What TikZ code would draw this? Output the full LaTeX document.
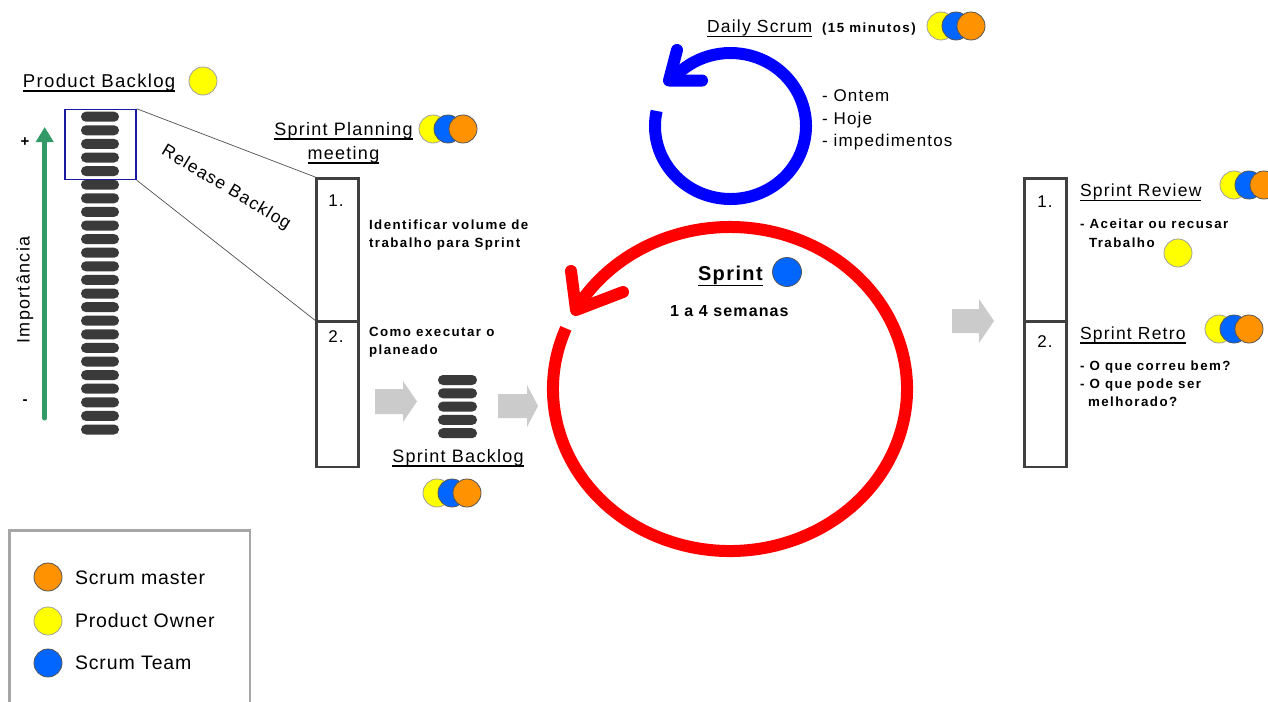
\documentclass[tikz,border=0pt]{standalone}
\usepackage{fontspec}
\setmainfont{Liberation Sans}[LetterSpace=7]
\newfontfamily\smb{Liberation Sans}[LetterSpace=11]
\newfontfamily\legf{Liberation Sans}[LetterSpace=4.5]
\usetikzlibrary{arrows.meta}
\definecolor{barc}{HTML}{3A3A3A}
\definecolor{navyc}{HTML}{1A1AA0}
\definecolor{greenc}{HTML}{339966}
\definecolor{cyel}{HTML}{FFFF00}
\definecolor{cblu}{HTML}{0066FF}
\definecolor{cora}{HTML}{FF9200}
\definecolor{yedge}{HTML}{A0A0A0}
\definecolor{cedge}{HTML}{555555}
\definecolor{boxc}{HTML}{404040}
\definecolor{arrc}{HTML}{CBCBCB}
\definecolor{legc}{HTML}{A6A6A6}
\definecolor{linec}{HTML}{505050}
\newcommand\fsz[1]{\fontsize{#1}{#1}\selectfont}
\newcommand\ulx[2][4.5pt]{\setbox0=\hbox{#2}\rlap{\rule[-#1]{\wd0}{1.4pt}}\box0}
\newcommand\trio[3]{%
  \node[pyel] (#3-y) at ({#1-15},#2) {};
  \node[pblu] (#3-b) at (#1,#2) {};
  \node[pora] (#3-o) at ({#1+15},#2) {};}
\begin{document}
\begin{tikzpicture}[x=1pt,y=-1pt,
  txt/.style={inner sep=0pt,outer sep=0pt,anchor=base west,text=black},
  ctxt/.style={inner sep=0pt,outer sep=0pt,anchor=base,text=black},
  pc/.style={circle,minimum size=28pt,inner sep=0pt,line width=0.8pt},
  pyel/.style={pc,fill=cyel,draw=yedge},
  pblu/.style={pc,fill=cblu,draw=cedge},
  pora/.style={pc,fill=cora,draw=cedge},
  cell/.style={draw=boxc,line width=2.5pt,inner sep=0pt,minimum width=42pt},
  blockarrow/.style={fill=arrc},
  bar/.style={fill=barc,rounded corners=4.9pt},
  ring/.style={line width=12pt},
  chev/.style={line width=12pt,line cap=round,line join=round},
  thin/.style={draw=linec,line width=0.7pt},
  smalltxt/.style={txt,font=\smb\bfseries\fsz{13.3}}
]
\useasboundingbox (0,0) rectangle (1268,701);
\fill[white] (0,0) rectangle (1268,701);

% ---------- Product backlog ----------
\node[txt] (pbt) at (23,87) {\fsz{18.6}\ulx{Product Backlog}};
\node[pyel] (pbc) at (203,81) {};
\foreach \i in {0,...,23}{\fill[bar] (81,{111.7+13.6*\i}) rectangle (119,{121.7+13.6*\i});}
\node[draw=navyc,line width=1.5pt,minimum width=71pt,minimum height=70pt,inner sep=0pt] (rb) at (100.5,144.5) {};
\coordinate (gbot) at (44.7,418);
\coordinate (gtop) at (44.7,127);
\draw[greenc,line width=5pt,line cap=round,-{Triangle[length=15pt,width=17pt]}] (gbot) -- (gtop);
\node[inner sep=0pt,text=black] (plus) at (25,142) {\fsz{15}\bfseries +};
\node[inner sep=0pt,text=black] (minus) at (25,402) {\fsz{15}\bfseries -};
\node[inner sep=0pt,text=black,rotate=90] (imp) at (25,290) {\fsz{18}Importância};
\node[inner sep=0pt,text=black,rotate=-31] (rel) at (226,188) {\fsz{17.5}Release Backlog};

% ---------- Sprint planning ----------
\node[ctxt] (spt1) at (343.5,135) {\fsz{18}\ulx{Sprint Planning}};
\node[ctxt] (spt2) at (343.5,159) {\fsz{18}\ulx{meeting}};
\trio{448}{129}{spc}
\node[cell,minimum height=143.4pt] (pb1) at (337.5,250) {};
\node[cell,minimum height=145.3pt] (pb2) at (337.5,394.35) {};
\node[inner sep=0pt,text=black] (n1) at (336,201) {\fsz{17}1.};
\node[inner sep=0pt,text=black] (n2) at (336,337) {\fsz{17}2.};
\draw[thin] (rb.north east) -- (pb1.north west);
\draw[thin] (rb.south east) -- (pb2.north west);
\node[smalltxt] (id1) at (369,229) {Identificar volume de};
\node[smalltxt] (id2) at (369,247) {trabalho para Sprint};
\node[smalltxt] (ce1) at (369,336) {Como executar o};
\node[smalltxt] (ce2) at (369,354) {planeado};

% ---------- block arrows ----------
\fill[blockarrow] (375,389)--(403,389)--(403,381)--(417,401.5)--(403,422)--(403,414)--(375,414)--cycle;
\fill[blockarrow] (498,394)--(527,394)--(527,385)--(538,406)--(527,427)--(527,418)--(498,418)--cycle;
\fill[blockarrow] (952,309)--(979,309)--(979,299)--(994,321)--(979,343)--(979,333)--(952,333)--cycle;

% ---------- Sprint backlog ----------
\foreach \i in {0,...,4}{\fill[bar] (438,{375+13.3*\i}) rectangle (477,{385+13.3*\i});}
\node[ctxt] (sbt) at (458,462) {\fsz{18}\ulx{Sprint Backlog}};
\trio{452}{493}{sbc}

% ---------- Daily scrum ----------
\node[txt] (dst) at (707,32.5) {\fsz{17.5}\ulx{Daily Scrum}};
\node[txt] (dsm) at (822,32.5) {\smb\bfseries\fsz{13.3}(15 minutos)};
\trio{956}{26}{dsc}
\coordinate (bc) at (730.5,126);
\draw[blue,ring] (bc) ++(191.9:75.5 and 73) arc[start angle=191.9,end angle=-143,x radius=75.5,y radius=73];
\draw[blue,chev] (677,50) -- (669,80.5) -- (702,80.5);
\node[txt] (on1) at (822,101.5) {\fsz{17}- Ontem};
\node[txt] (on2) at (822,124) {\fsz{17}- Hoje};
\node[txt] (on3) at (822,146.5) {\fsz{17}- impedimentos};

% ---------- Sprint ----------
\coordinate (rc) at (730,389);
\draw[red,ring] (rc) ++(202:177 and 162) arc[start angle=202,end angle=-150.5,x radius=177,y radius=162];
\draw[red,chev] (571,271) -- (576,310) -- (623,292);
\node[txt] (spr) at (698,280) {\fsz{20}\bfseries\ulx[6.4pt]{Sprint}};
\node[pblu,minimum size=29pt] (sprc) at (787,272) {};
\node[txt] (sem) at (670,316.5) {\fsz{16}\bfseries 1 a 4 semanas};

% ---------- Review / Retro ----------
\node[cell,minimum height=143.4pt] (rv1) at (1045.5,250) {};
\node[cell,minimum height=145.3pt] (rv2) at (1045.5,394.35) {};
\node[inner sep=0pt,text=black] (m1) at (1045,202) {\fsz{17}1.};
\node[inner sep=0pt,text=black] (m2) at (1045,342) {\fsz{17}2.};
\node[txt] (srv) at (1080,196.5) {\fsz{17.5}\ulx{Sprint Review}};
\trio{1249}{185}{src}
\node[smalltxt] (ac1) at (1080,228) {- Aceitar ou recusar};
\node[smalltxt] (ac2) at (1089,247) {Trabalho};
\node[pyel] (trc) at (1178,253) {};
\node[txt] (sre) at (1080,339) {\fsz{17.5}\ulx{Sprint Retro}};
\trio{1234}{329}{stc}
\node[smalltxt] (oq1) at (1080,370) {- O que correu bem?};
\node[smalltxt] (oq2) at (1080,388) {- O que pode ser};
\node[smalltxt] (oq3) at (1088,406) {melhorado?};

% ---------- Legend ----------
\draw[legc,line width=2.5pt] (9.3,720) -- (9.3,530.7) -- (250,530.7) -- (250,720);
\node[pora] (lo) at (48,577) {};
\node[pyel] (ly) at (48,621) {};
\node[pblu] (lb) at (48,663) {};
\node[txt] (lot) at (75,584) {\legf\fsz{19.5}Scrum master};
\node[txt] (lyt) at (75,627.3) {\legf\fsz{19.5}Product Owner};
\node[txt] (lbt) at (75,669) {\legf\fsz{19.5}Scrum Team};
\end{tikzpicture}
\end{document}
